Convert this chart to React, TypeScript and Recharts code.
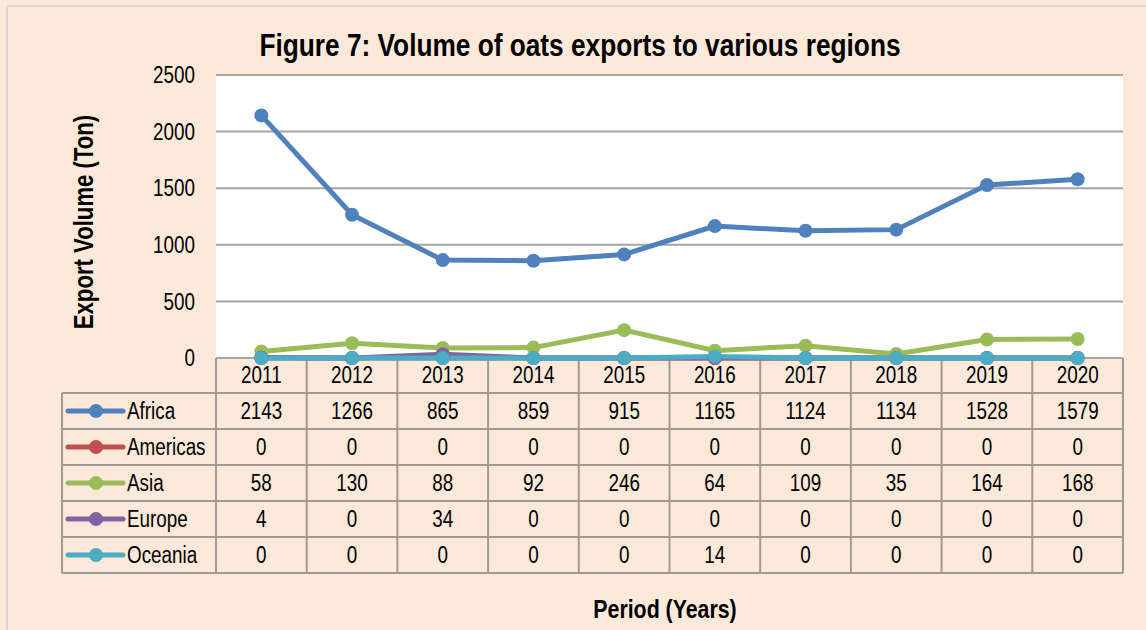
import React from 'react';
import {LineChart, Line, XAxis, YAxis, CartesianGrid} from 'recharts';

const years = ['2011', '2012', '2013', '2014', '2015', '2016', '2017', '2018', '2019', '2020'];
const africa = [2143, 1266, 865, 859, 915, 1165, 1124, 1134, 1528, 1579];
const americas = [0, 0, 0, 0, 0, 0, 0, 0, 0, 0];
const asia = [58, 130, 88, 92, 246, 64, 109, 35, 164, 168];
const europe = [4, 0, 34, 0, 0, 0, 0, 0, 0, 0];
const oceania = [0, 0, 0, 0, 0, 14, 0, 0, 0, 0];
const yTicks = [0, 500, 1000, 1500, 2000, 2500];

const series = [
    {name: 'Africa', values: africa, color: '#4F81BD'},
    {name: 'Americas', values: americas, color: '#C0504D'},
    {name: 'Asia', values: asia, color: '#9BBB59'},
    {name: 'Europe', values: europe, color: '#8064A2'},
    {name: 'Oceania', values: oceania, color: '#4BACC6'},
];

const data = years.map((year, i) => {
    const row: Record<string, string | number> = {year};
    series.forEach((s) => {
        row[s.name] = s.values[i];
    });
    return row;
});

const W = 1146;
const H = 630;
const plotLeft = 216;
const plotRight = 1123;
const plotTop = 75;
const plotBottom = 358;
const tableLeft = 62;
const headerH = 35;
const rowH = 36;
const colW = (plotRight - plotLeft) / years.length;

// no Arial Narrow in the sandbox, so squeeze Liberation Sans horizontally
const font = "'Liberation Sans', Arial, sans-serif";
const squeeze = 0.82;
const fs = 23;
const gridColor = '#A5A5A5';
const tableLine = '#A29A92';

const NarrowText = ({x, y, anchor = 'middle', dy = '0.36em', children}: any) => (
    <text transform={`translate(${x} ${y}) scale(${squeeze} 1)`} x={0} y={0} dy={dy} textAnchor={anchor}
          fontSize={fs} fontFamily={font} fill="#000">{children}</text>
);

const YTick = (props: any) => (
    <NarrowText x={props.x} y={props.y} anchor="end">{props.payload.value}</NarrowText>
);

const XTick = (props: any) => (
    <NarrowText x={props.x} y={props.y} dy="0.71em">{props.payload.value}</NarrowText>
);

const DataTable = () => {
    const firstRow = plotBottom + headerH;
    const tableBottom = firstRow + rowH * series.length;
    return (
        <svg width={W} height={H} style={{position: 'absolute', left: 0, top: 0}}>
            <g stroke={tableLine} strokeWidth={2}>
                {series.map((s, i) => (
                    <line key={'r' + s.name} x1={tableLeft} x2={plotRight} y1={firstRow + i * rowH} y2={firstRow + i * rowH}/>
                ))}
                <line x1={tableLeft} x2={plotRight} y1={tableBottom} y2={tableBottom}/>
                <line x1={tableLeft} x2={tableLeft} y1={firstRow} y2={tableBottom}/>
                {years.map((y, i) => (
                    <line key={'c' + y} x1={plotLeft + i * colW} x2={plotLeft + i * colW} y1={plotBottom} y2={tableBottom}/>
                ))}
                <line x1={plotRight} x2={plotRight} y1={plotBottom} y2={tableBottom}/>
            </g>
            {series.map((s, i) => {
                const cy = firstRow + i * rowH + rowH / 2;
                return (
                    <g key={s.name}>
                        <line x1={68} x2={123} y1={cy} y2={cy} stroke={s.color} strokeWidth={5} strokeLinecap="round"/>
                        <circle cx={96} cy={cy} r={7} fill={s.color}/>
                        <NarrowText x={127} y={cy} anchor="start">{s.name}</NarrowText>
                        {s.values.map((v, j) => (
                            <NarrowText key={j} x={plotLeft + (j + 0.5) * colW} y={cy}>{v}</NarrowText>
                        ))}
                    </g>
                );
            })}
        </svg>
    );
};

const label: React.CSSProperties = {
    position: 'absolute', whiteSpace: 'nowrap', fontFamily: font, fontWeight: 'bold', color: '#000', lineHeight: 1,
};

export default function App() {
    return (
        <div style={{position: 'absolute', left: 0, top: 0, width: W, height: H, background: '#FDE9D9', overflow: 'hidden'}}>
            <div style={{position: 'absolute', left: 6, top: 5, width: W, height: H, borderLeft: '2px solid #D9D9D9', borderTop: '2px solid #D9D9D9'}}/>
            <DataTable/>
            <div style={{position: 'absolute', left: 0, top: 0}}>
                <LineChart width={W} height={H} data={data}
                           margin={{top: plotTop, right: W - plotRight, left: plotLeft - 60, bottom: H - plotBottom - 40}}>
                    <CartesianGrid vertical={false} stroke={gridColor} strokeWidth={2} fill="#FFFFFF" fillOpacity={1}/>
                    <XAxis dataKey="year" height={40} axisLine={false} tickLine={false} tickSize={0} tickMargin={9}
                           padding={{left: colW / 2, right: colW / 2}} interval={0} tick={XTick}/>
                    <YAxis width={60} domain={[0, 2500]} ticks={yTicks} axisLine={false} tickLine={false}
                           tickSize={0} tickMargin={21} tick={YTick}/>
                    {series.map((s) => (
                        <Line key={s.name} dataKey={s.name} stroke={s.color} strokeWidth={5}
                              dot={{r: 7, fill: s.color, stroke: s.color, strokeWidth: 0}}
                              activeDot={false} isAnimationActive={false}/>
                    ))}
                </LineChart>
            </div>
            <div style={{...label, left: 580, top: 45, fontSize: 32, transform: `translate(-50%, -50%) scaleX(${squeeze})`}}>
                Figure 7: Volume of oats exports to various regions
            </div>
            <div style={{...label, left: 84, top: 222, fontSize: 27, transform: `translate(-50%, -50%) rotate(-90deg) scaleX(${squeeze})`}}>
                Export Volume (Ton)
            </div>
            <div style={{...label, left: 665, top: 609, fontSize: 26, transform: `translate(-50%, -50%) scaleX(${squeeze})`}}>
                Period (Years)
            </div>
        </div>
    );
}
